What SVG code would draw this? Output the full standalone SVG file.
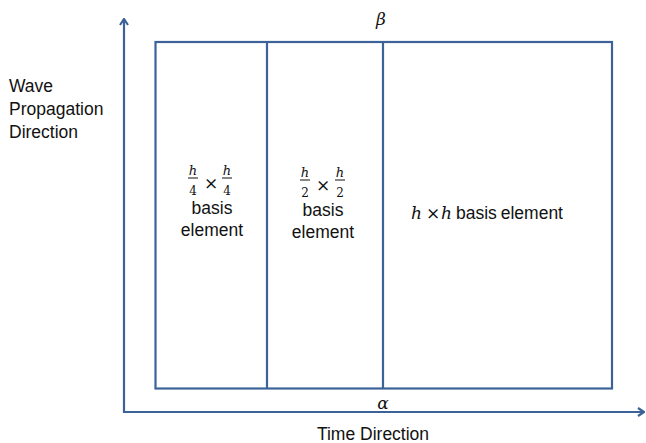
<svg xmlns="http://www.w3.org/2000/svg" width="646" height="443" viewBox="0 0 646 443">
<style>
.ln{fill:none;stroke:#3C6398;stroke-width:2.2}
.t{font-family:"Liberation Sans",Arial,sans-serif;font-size:17.5px;fill:#111}
.m{font-family:"DejaVu Serif","Liberation Serif",serif;font-style:italic;fill:#111}
.n{font-family:"DejaVu Serif","Liberation Serif",serif;fill:#111}
.fb{stroke:#111;stroke-width:1}
</style>
<defs>
<marker id="ah" viewBox="0 0 10 10" refX="9" refY="5" markerWidth="10" markerHeight="10" orient="auto" markerUnits="userSpaceOnUse">
<path d="M3,1 L9,5 L3,9" fill="none" stroke="#3C6398" stroke-width="2.2"/>
</marker>
</defs>
<rect width="646" height="443" fill="#fff"/>
<g id="connectors">
<path class="ln" d="M124,413 V19" marker-end="url(#ah)"/>
<path class="ln" d="M123,412 H644" marker-end="url(#ah)"/>
</g>
<g id="grid">
<rect class="ln" x="155.5" y="42" width="456.5" height="346.5"/>
<path class="ln" d="M267,42 V388.5 M383,42 V388.5"/>
</g>
<g id="cell-quarter">
<text class="m" x="193" y="175" font-size="13" text-anchor="middle">h</text>
<path class="fb" d="M188,178 H198"/>
<text class="n" x="193" y="195" font-size="12" text-anchor="middle">4</text>
<text class="n" x="211" y="189" font-size="17" text-anchor="middle">×</text>
<text class="m" x="227" y="175" font-size="13" text-anchor="middle">h</text>
<path class="fb" d="M222,178 H232"/>
<text class="n" x="227" y="195" font-size="12" text-anchor="middle">4</text>
<text class="t" x="212" y="214" text-anchor="middle">basis</text>
<text class="t" x="212" y="236" text-anchor="middle">element</text>
</g>
<g id="cell-half">
<text class="m" x="305" y="177" font-size="13" text-anchor="middle">h</text>
<path class="fb" d="M300,180 H310"/>
<text class="n" x="305" y="197" font-size="12" text-anchor="middle">2</text>
<text class="n" x="323" y="191" font-size="17" text-anchor="middle">×</text>
<text class="m" x="340" y="177" font-size="13" text-anchor="middle">h</text>
<path class="fb" d="M335,180 H345"/>
<text class="n" x="340" y="197" font-size="12" text-anchor="middle">2</text>
<text class="t" x="323" y="216" text-anchor="middle">basis</text>
<text class="t" x="323" y="238" text-anchor="middle">element</text>
</g>
<g id="cell-full">
<text class="m" x="411" y="219" font-size="17">h</text>
<text class="n" x="426" y="219" font-size="17">×</text>
<text class="m" x="441" y="219" font-size="17">h</text>
<text class="t" x="456" y="219" word-spacing="-1">basis element</text>
</g>
<g id="labels">
<text class="m" x="381" y="25" font-size="17" text-anchor="middle">β</text>
<text class="m" x="383" y="409" font-size="17" text-anchor="middle">α</text>
<text class="t" x="9" y="92">Wave</text>
<text class="t" x="9" y="115">Propagation</text>
<text class="t" x="9" y="138">Direction</text>
<text class="t" x="373" y="440" text-anchor="middle">Time Direction</text>
</g>
</svg>
